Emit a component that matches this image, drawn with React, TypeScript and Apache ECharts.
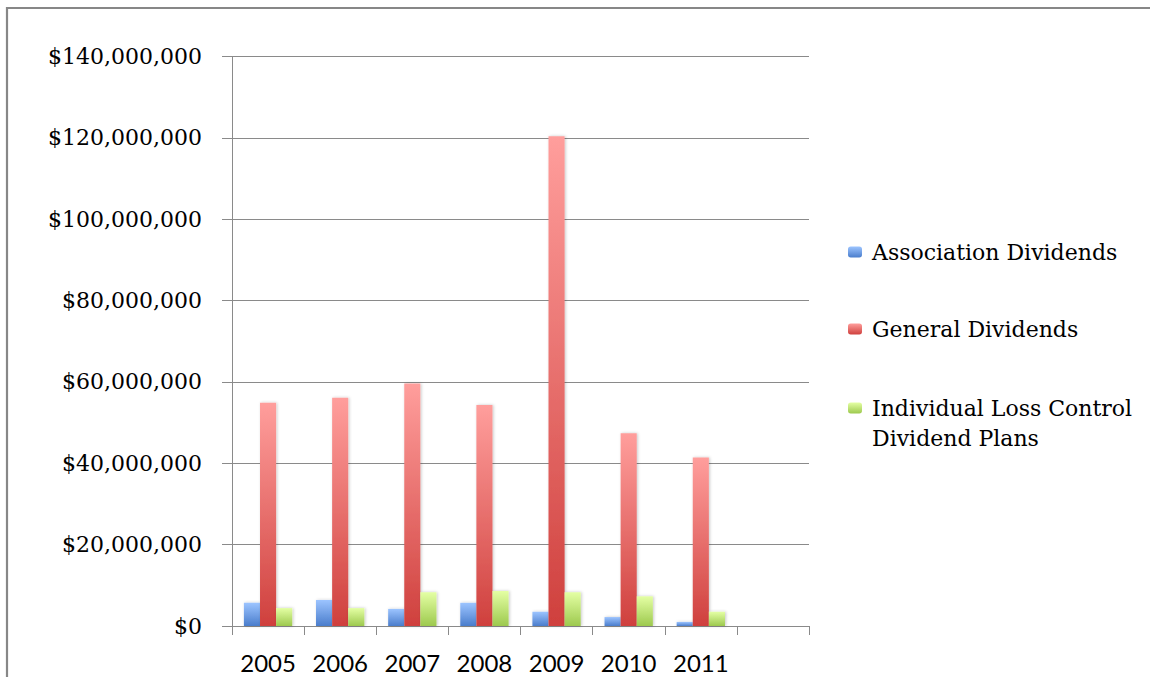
import React, { useEffect, useRef } from "react";
import * as echarts from "echarts";

// Dividends paid per year, in dollars
const years = ["2005", "2006", "2007", "2008", "2009", "2010", "2011", ""];
const associationDividends = [5700000, 6400000, 4200000, 5700000, 3500000, 2200000, 1000000];
const generalDividends = [54900000, 56100000, 59600000, 54300000, 120400000, 47400000, 41400000];
const lossControlDividends = [4400000, 4400000, 8300000, 8600000, 8300000, 7300000, 3500000];

const seriesNames = [
  "Association Dividends",
  "General Dividends",
  "Individual Loss Control Dividend Plans",
];

const yMin = 0;
const yMax = 140000000;
const yStep = 20000000;

const SERIF = "'DejaVu Serif', 'Liberation Serif', serif";
const SANS = "Lato, 'Open Sans', 'Liberation Sans', sans-serif";
const AXIS_GRAY = "#8a8a8a";

function vGrad(top: string, bottom: string) {
  return new echarts.graphic.LinearGradient(0, 0, 0, 1, [
    { offset: 0, color: top },
    { offset: 1, color: bottom },
  ]);
}

const barShadow = {
  shadowColor: "rgba(0,0,0,0.22)",
  shadowBlur: 3,
  shadowOffsetX: 1,
  shadowOffsetY: 0,
};

function legendFor(name: string, top: number, text: string) {
  return {
    show: true,
    orient: "vertical" as const,
    left: 848,
    top,
    padding: 0,
    selectedMode: false,
    data: [name],
    itemWidth: 14,
    itemHeight: 11,
    formatter: () => text,
    textStyle: {
      fontFamily: SERIF,
      fontSize: 22,
      lineHeight: 30,
      color: "#000",
      padding: [0, 0, 0, 5],
    },
  };
}

export default function App() {
  const ref = useRef<HTMLDivElement>(null);

  useEffect(() => {
    if (!ref.current) return;
    const chart = echarts.init(ref.current, undefined, { renderer: "svg" });

    chart.setOption({
      animation: false,
      backgroundColor: "#ffffff",
      graphic: [
        {
          // chart-area frame: only its left and top edges fall inside the view
          type: "polyline",
          silent: true,
          shape: { points: [[7, 700], [7, 8], [1160, 8]] },
          style: { fill: "none", stroke: "#878787", lineWidth: 2.2 },
        },
      ],
      legend: [
        legendFor(seriesNames[0], 237, seriesNames[0]),
        legendFor(seriesNames[1], 314, seriesNames[1]),
        legendFor(seriesNames[2], 363, "\nIndividual Loss Control\nDividend Plans"),
      ],
      grid: {
        left: 232,
        right: 341,
        top: 56.5,
        bottom: 51,
        containLabel: false,
        outerBoundsMode: "none",
      },
      xAxis: {
        type: "category",
        data: years,
        axisLine: { show: true, lineStyle: { color: AXIS_GRAY, width: 1 } },
        axisTick: {
          show: true,
          alignWithLabel: false,
          interval: 0,
          length: 9,
          lineStyle: { color: AXIS_GRAY },
        },
        axisLabel: {
          interval: 0,
          margin: 24,
          color: "#000",
          fontFamily: SANS,
          fontSize: 24,
          lineHeight: 24,
        },
        splitLine: { show: false },
      },
      yAxis: {
        type: "value",
        min: yMin,
        max: yMax,
        interval: yStep,
        axisLine: { show: true, lineStyle: { color: AXIS_GRAY, width: 1 } },
        axisTick: { show: true, length: 10, lineStyle: { color: AXIS_GRAY } },
        axisLabel: {
          margin: 30,
          color: "#000",
          fontFamily: SERIF,
          fontSize: 22,
          formatter: (v: number) => "$" + v.toLocaleString("en-US"),
        },
        splitLine: { show: true, lineStyle: { color: AXIS_GRAY, width: 1 } },
      },
      series: [
        {
          name: seriesNames[0],
          type: "bar",
          data: associationDividends,
          barGap: "0%",
          barCategoryGap: "33%",
          itemStyle: { color: vGrad("#9cc4ff", "#4a7dcc"), ...barShadow },
        },
        {
          name: seriesNames[1],
          type: "bar",
          data: generalDividends,
          barGap: "0%",
          barCategoryGap: "33%",
          itemStyle: { color: vGrad("#ff9e9c", "#cf403d"), ...barShadow },
        },
        {
          name: seriesNames[2],
          type: "bar",
          data: lossControlDividends,
          barGap: "0%",
          barCategoryGap: "33%",
          itemStyle: { color: vGrad("#e4ffa4", "#9dc94e"), ...barShadow },
        },
      ],
    });

    return () => chart.dispose();
  }, []);

  return (
    <div
      ref={ref}
      style={{ position: "absolute", left: 0, top: 0, width: 1150, height: 677 }}
    />
  );
}
